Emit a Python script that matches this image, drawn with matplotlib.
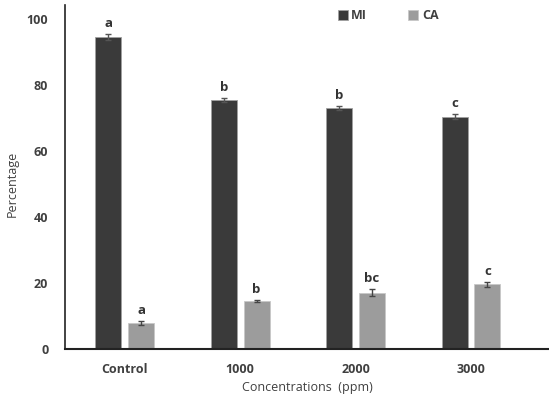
import matplotlib.pyplot as plt
import numpy as np

categories = ["Control", "1000", "2000", "3000"]
mi_values = [94.4, 75.5, 73.1, 70.4]
mi_errors = [0.9, 0.6, 0.6, 0.8]
ca_values = [7.8, 14.5, 17.1, 19.6]
ca_errors = [0.6, 0.4, 1.0, 0.7]
mi_letters = ["a", "b", "b", "c"]
ca_letters = ["a", "b", "bc", "c"]

text_color = "#404040"
plt.rcParams["font.family"] = ["Open Sans", "DejaVu Sans"]

fig = plt.figure(figsize=(5.49, 4.01), dpi=100)
ax = fig.add_axes([0.1184, 0.1297, 0.8816, 0.8578])

x = np.arange(len(categories))
w = 0.225
off = 0.142

ax.bar(x - off, mi_values, w, color="#3a3a3a", edgecolor="#a0a0a0", linewidth=0.6,
       yerr=mi_errors, error_kw=dict(ecolor="#555555", elinewidth=1, capsize=2, capthick=1),
       label="MI")
ax.bar(x + off, ca_values, w, color="#9c9c9c", edgecolor="#c8c8c8", linewidth=0.6,
       yerr=ca_errors, error_kw=dict(ecolor="#444444", elinewidth=1, capsize=2, capthick=1),
       label="CA")

for i in range(len(categories)):
    ax.text(x[i] - off, mi_values[i] + mi_errors[i] + 1.2, mi_letters[i], ha="center", va="bottom",
            fontsize=9.5, color="#333333", fontweight="bold")
    ax.text(x[i] + off, ca_values[i] + ca_errors[i] + 1.2, ca_letters[i], ha="center", va="bottom",
            fontsize=9.5, color="#333333", fontweight="bold")

ax.set_xlim(-0.517, 3.675)
ax.set_ylim(0, 104.2)
ax.set_yticks([0, 20, 40, 60, 80, 100])
ax.set_xticks(x)
ax.set_xticklabels(categories)
ax.tick_params(axis="both", length=0, labelsize=9, labelcolor=text_color)
ax.tick_params(axis="y", pad=12)
ax.tick_params(axis="x", pad=10)
for lbl in ax.get_xticklabels() + ax.get_yticklabels():
    lbl.set_fontweight("bold")

for s in ["top", "right"]:
    ax.spines[s].set_visible(False)
ax.spines["left"].set_color("#222222")
ax.spines["bottom"].set_color("#222222")
ax.spines["left"].set_linewidth(1.2)
ax.spines["bottom"].set_linewidth(1.5)

ax.set_xlabel("Concentrations  (ppm)", fontsize=9, color=text_color, labelpad=4)
ax.set_ylabel("Percentage", fontsize=9, color=text_color)
ax.yaxis.set_label_coords(-0.095, 0.48)

leg = ax.legend(loc="upper left", bbox_to_anchor=(0.54, 1.02), ncol=2, frameon=False,
                fontsize=9, handlelength=0.8, handleheight=0.8, handletextpad=0.3,
                columnspacing=3.3)
for t in leg.get_texts():
    t.set_color(text_color)
    t.set_fontweight("bold")

plt.savefig("out.png", dpi=100)
